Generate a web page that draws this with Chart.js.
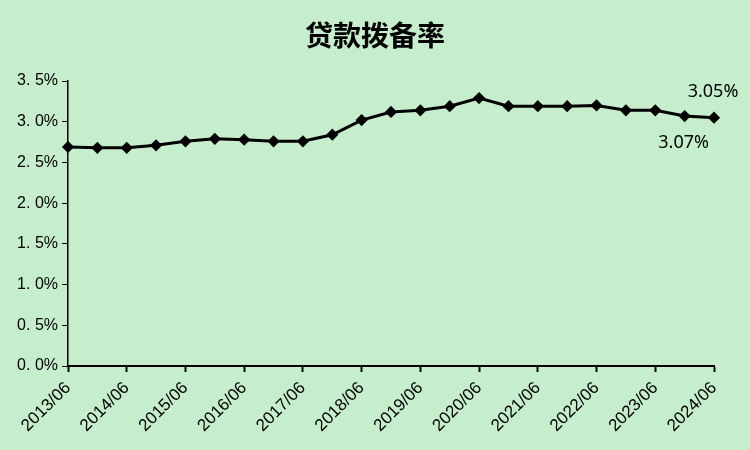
<!DOCTYPE html>
<html><head><meta charset="utf-8">
<script src="https://cdn.jsdelivr.net/npm/chart.js@4"></script>
<style>html,body{margin:0;padding:0;background:#C6EDCC;}#wrap{width:750px;height:450px;}</style>
</head><body><div id="wrap"><canvas id="c" width="750" height="450"></canvas></div>
<script>
const categories = ["2013/06","2013/12","2014/06","2014/12","2015/06","2015/12","2016/06","2016/12","2017/06","2017/12","2018/06","2018/12","2019/06","2019/12","2020/06","2020/12","2021/06","2021/12","2022/06","2022/12","2023/06","2023/12","2024/06"];
const provisionRate = [2.69,2.68,2.68,2.71,2.76,2.79,2.78,2.76,2.76,2.84,3.02,3.12,3.14,3.19,3.29,3.19,3.19,3.19,3.20,3.14,3.14,3.07,3.05];
const yTicks = [0,0.5,1.0,1.5,2.0,2.5,3.0,3.5];
const titleText = "贷款拨备率";
const annotations = [{index:22, text:"3.05%", pos:"above"},{index:21, text:"3.07%", pos:"below"}];

const annotPlugin = {
  id:'annot',
  afterDatasetsDraw(chart){
    const ctx = chart.ctx;
    const meta = chart.getDatasetMeta(0);
    ctx.save();
    ctx.font = '18px "Noto Sans", "DejaVu Sans", sans-serif';
    ctx.fillStyle = '#000';
    ctx.textAlign = 'center';
    ctx.textBaseline = 'middle';
    annotations.forEach(a=>{
      const p = meta.data[a.index];
      const y = a.pos === 'above' ? p.y - 26 : p.y + 27;
      ctx.fillText(a.text, p.x - 1, y);
    });
    ctx.restore();
  }
};
const titlePlugin = {
  id:'ctitle',
  afterDraw(chart){
    const ctx = chart.ctx;
    ctx.save();
    ctx.font = 'bold 28px "Noto Sans CJK SC", sans-serif';
    ctx.fillStyle = '#000';
    ctx.textAlign = 'center';
    ctx.textBaseline = 'middle';
    ctx.fillText(titleText, chart.width/2, 35);
    ctx.restore();
  }
};
const bgPlugin = {
  id:'bg',
  beforeDraw(chart){
    const ctx = chart.ctx;
    ctx.save(); ctx.fillStyle = '#C6EDCC'; ctx.fillRect(0,0,chart.width,chart.height); ctx.restore();
  }
};

new Chart(document.getElementById('c'), {
  type:'line',
  data:{
    labels:categories,
    datasets:[{
      data:provisionRate,
      borderColor:'#000',
      backgroundColor:'#000',
      borderWidth:3,
      pointStyle:'rectRot',
      pointRadius:4,
      pointHoverRadius:4,
      tension:0
    }]
  },
  options:{
    responsive:false,
    animation:false,
    layout:{padding:{left:0,right:36,top:81,bottom:0}},
    plugins:{
      legend:{display:false},
      tooltip:{enabled:false},
      title:{display:false}
    },
    scales:{
      x:{
        offset:false,
        afterFit:(axis)=>{axis.height = 84;},
        grid:{display:true,drawOnChartArea:false,drawTicks:true,tickLength:6,
          tickColor:(c)=> (c.index%2===0 ? '#000' : 'rgba(0,0,0,0)'), tickWidth:2},
        border:{display:true,color:'#000',width:2},
        ticks:{autoSkip:false,maxRotation:45,minRotation:45,color:'#000',padding:6,
          font:{family:'"Liberation Sans", sans-serif',size:17},
          callback:function(v,i){return i%2===0 ? categories[i] : '';}}
      },
      y:{
        min:0,max:3.5,
        afterFit:(axis)=>{axis.width = 68;},
        afterBuildTicks:(axis)=>{axis.ticks = yTicks.map(v=>({value:v}));},
        grid:{display:true,drawOnChartArea:false,drawTicks:true,tickLength:6,tickColor:'#000',tickWidth:1},
        border:{display:true,color:'#000',width:1.5},
        ticks:{color:'#000',padding:4,font:{family:'"Liberation Sans", sans-serif',size:16},
          callback:(v)=>v.toFixed(1).replace('.', '. ')+'%'}
      }
    }
  },
  plugins:[bgPlugin, annotPlugin, titlePlugin]
});
</script></body></html>
